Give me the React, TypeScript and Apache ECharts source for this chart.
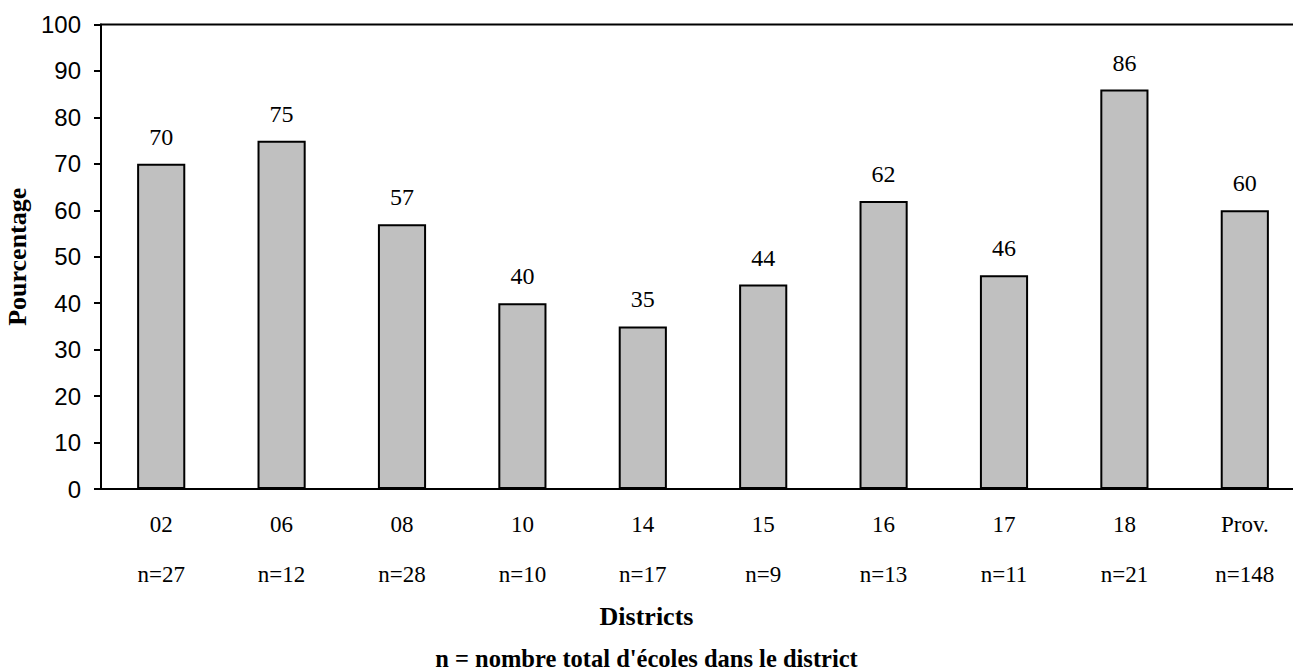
import React, { useEffect, useRef } from "react";
import * as echarts from "echarts";

const districts = ["02", "06", "08", "10", "14", "15", "16", "17", "18", "Prov."];
const counts = ["n=27", "n=12", "n=28", "n=10", "n=17", "n=9", "n=13", "n=11", "n=21", "n=148"];
const percentages = [70, 75, 57, 40, 35, 44, 62, 46, 86, 60];
const yTicks = { min: 0, max: 100, interval: 10 };

const SERIF = "Liberation Serif";
const SANS = "Liberation Sans";

export default function App() {
  const ref = useRef<HTMLDivElement>(null);
  useEffect(() => {
    if (!ref.current) return;
    const chart = echarts.init(ref.current, null, { renderer: "svg" });
    chart.setOption({
      animation: false,
      backgroundColor: "#ffffff",
      textStyle: { fontFamily: SERIF },
      grid: {
        left: 101,
        right: -12,
        top: 24.5,
        bottom: 182,
        containLabel: false,
        outerBoundsMode: "none",
        show: true,
        borderColor: "#000",
        borderWidth: 2,
        backgroundColor: "transparent",
      },
      xAxis: [
        {
          type: "category",
          data: districts,
          position: "bottom",
          axisLine: { show: true, lineStyle: { color: "#000", width: 2 } },
          axisTick: { show: false },
          axisLabel: { color: "#000", fontFamily: SERIF, fontSize: 23, margin: 24 },
        },
        {
          type: "category",
          data: counts,
          position: "bottom",
          offset: 50,
          axisLine: { show: false },
          axisTick: { show: false },
          axisLabel: { color: "#000", fontFamily: SERIF, fontSize: 23, margin: 24 },
        },
      ],
      yAxis: {
        type: "value",
        min: yTicks.min,
        max: yTicks.max,
        interval: yTicks.interval,
        name: "Pourcentage",
        nameLocation: "middle",
        nameGap: 68,
        nameRotate: 90,
        nameTextStyle: { color: "#000", fontFamily: SERIF, fontSize: 26, fontWeight: "bold" },
        axisLine: { show: true, lineStyle: { color: "#000", width: 2 } },
        axisTick: { show: true, length: 7, lineStyle: { color: "#000", width: 2 } },
        axisLabel: { color: "#000", fontFamily: SANS, fontSize: 24, margin: 20 },
        splitLine: { show: false },
      },
      series: [
        {
          type: "bar",
          xAxisIndex: 0,
          data: percentages,
          barWidth: "40%",
          itemStyle: { color: "#c0c0c0", borderColor: "#000", borderWidth: 2 },
          label: {
            show: true,
            position: "top",
            distance: 15,
            formatter: "{v|{c}}",
            rich: {
              v: { color: "#000", fontFamily: SERIF, fontSize: 24, fontWeight: "normal" },
            },
          },
        },
      ],
      graphic: [
        {
          type: "text",
          left: "center",
          top: 603,
          style: { text: "Districts", font: `bold 26px ${SERIF}`, fill: "#000" },
        },
        {
          type: "text",
          left: "center",
          top: 646,
          style: {
            text: "n = nombre total d'écoles dans le district",
            font: `bold 24.5px ${SERIF}`,
            fill: "#000",
          },
        },
      ],
    });
    return () => chart.dispose();
  }, []);
  return (
    <div
      ref={ref}
      style={{ position: "absolute", left: 0, top: 0, width: 1293, height: 671, background: "#fff" }}
    />
  );
}
